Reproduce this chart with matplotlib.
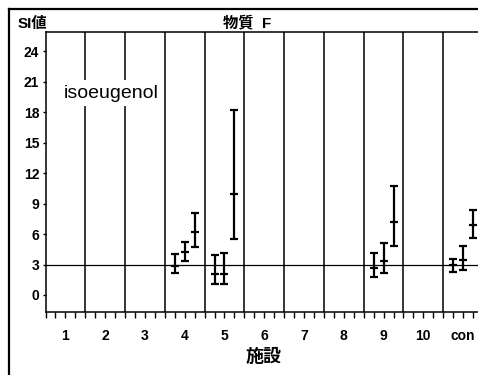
import matplotlib
matplotlib.use("Agg")
import matplotlib.pyplot as plt
from matplotlib.lines import Line2D
import numpy as np

plt.rcParams['font.family'] = ['Liberation Sans', 'Noto Sans CJK JP', 'DejaVu Sans']

categories = ["1", "2", "3", "4", "5", "6", "7", "8", "9", "10", "con"]
yticks = [0, 3, 6, 9, 12, 15, 18, 21, 24]

# error bar groups: (category index 1-based, offset within category)
cat_idx = [4, 4, 4, 5, 5, 5, 9, 9, 9, 11, 11, 11]
offsets = [-0.25, 0.0, 0.25] * 4
center = [2.9, 4.2, 6.2, 2.05, 2.05, 9.95, 2.7, 3.3, 7.2, 2.95, 3.45, 6.9]
lower = [2.2, 3.3, 4.75, 1.05, 1.05, 5.5, 1.75, 2.2, 4.8, 2.25, 2.45, 5.6]
upper = [4.0, 5.25, 8.05, 3.9, 4.15, 18.2, 4.15, 5.1, 10.77, 3.55, 4.8, 8.4]
reference_line = 3

W, H = 478, 375
fig = plt.figure(figsize=(W / 100, H / 100), dpi=100)
ax_left, ax_right, ax_top, ax_bottom = 45.5, 483, 32, 312
ax = fig.add_axes([ax_left / W, 1 - ax_bottom / H, (ax_right - ax_left) / W, (ax_bottom - ax_top) / H])

ax.set_xlim(0.5, 11.5)
ax.set_ylim(-1.68, 25.92)

# separators
for s in np.arange(1.5, 11.5, 1.0):
    ax.axvline(s, color='black', lw=1.1, zorder=1)
ax.axhline(reference_line, color='black', lw=0.9, zorder=1)

x = np.array(cat_idx) + np.array(offsets)
c = np.array(center)
yerr = np.vstack([c - np.array(lower), np.array(upper) - c])
ax.errorbar(x, c, yerr=yerr, fmt='_', color='black', ms=6, mew=1.6,
            elinewidth=1.6, capsize=3, capthick=1.6, zorder=3)

ax.text(0.965, 19.9, "isoeugenol", fontsize=14, ha='left', va='center', zorder=4,
        bbox=dict(facecolor='white', edgecolor='none', pad=3))

ax.set_yticks(yticks)
ax.set_yticklabels([str(v) for v in yticks], fontsize=10, fontweight='bold')
ax.set_xticks(range(1, 12))
ax.set_xticklabels(categories, fontsize=10, fontweight='bold')
ax.set_xticks(np.arange(0.5, 11.51, 0.25), minor=True)
ax.tick_params(axis='x', which='both', direction='out', length=4, width=1, pad=8)
ax.tick_params(axis='y', which='major', direction='out', length=2.5, width=1, pad=2)

for sp in ['left', 'top', 'bottom']:
    ax.spines[sp].set_linewidth(1.1)
ax.spines['right'].set_visible(False)

ax.set_xlabel("施設", fontsize=13, fontweight='bold')
ax.xaxis.set_label_coords((264 - ax_left) / (ax_right - ax_left), (ax_bottom - 349) / (ax_bottom - ax_top))

fig.text(247.5 / W, 1 - 23 / H, "物質  F", fontsize=11, fontweight='bold', ha='center', va='center')
fig.text(18 / W, 1 - 24 / H, "SI値", fontsize=11, fontweight='bold', ha='left', va='center')

# outer frame
fig.add_artist(Line2D([9 / W, 9 / W], [0, 1 - 9 / H], color='black', lw=1.6, transform=fig.transFigure))
fig.add_artist(Line2D([9 / W, 1], [1 - 9 / H, 1 - 9 / H], color='black', lw=1.6, transform=fig.transFigure))

fig.savefig("out.png", dpi=100)
